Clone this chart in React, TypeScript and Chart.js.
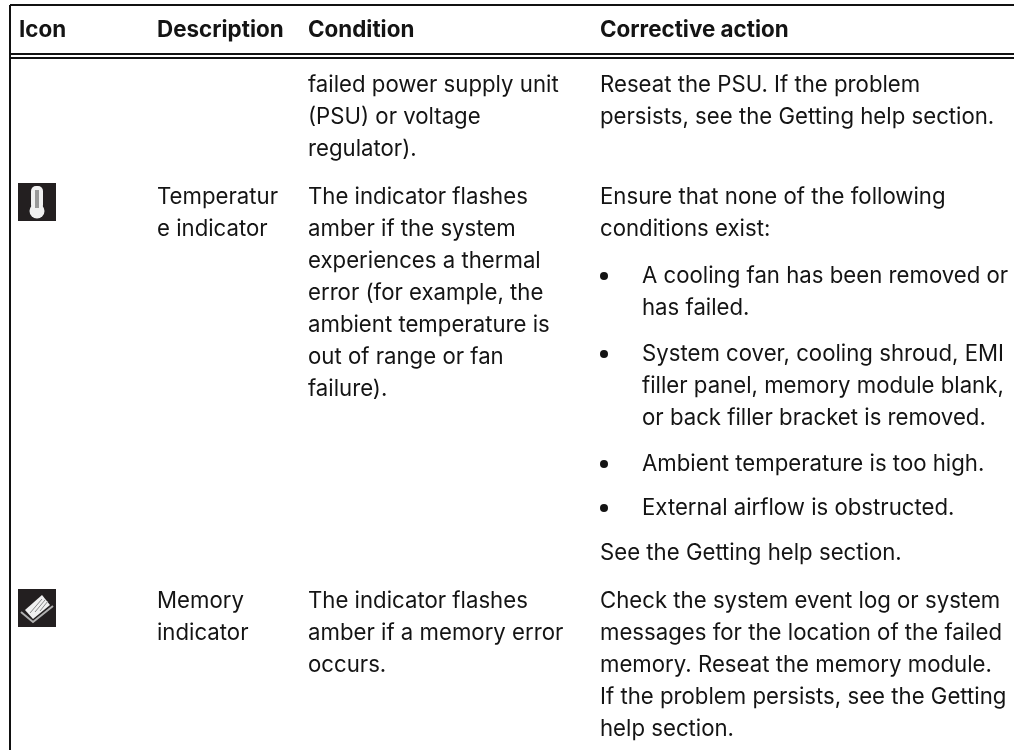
import React, { useEffect, useRef } from "react";
import { Chart, registerables } from "chart.js";

Chart.register(...registerables);

const FONT = "Inter";
const FONT_SIZE = 22.2;
const HEADER_FONT_SIZE = 22.4;
const TEXT_SHIFT = 1;
const columnX = [19, 157, 308, 600];
const headers = ["Icon", "Description", "Condition", "Corrective action"];
const headerY = 29;
const bulletX = 604;
const bulletTextX = 642;

type Line = [number, number, string];
const bodyLines: Line[] = [
  [2, 84, "failed power supply unit"],
  [2, 116, "(PSU) or voltage"],
  [2, 148, "regulator)."],
  [3, 84, "Reseat the PSU. If the problem"],
  [3, 116, "persists, see the Getting help section."],
  [1, 196, "Temperatur"],
  [1, 228, "e indicator"],
  [2, 196, "The indicator flashes"],
  [2, 228, "amber if the system"],
  [2, 260, "experiences a thermal"],
  [2, 292, "error (for example, the"],
  [2, 324, "ambient temperature is"],
  [2, 356, "out of range or fan"],
  [2, 388, "failure)."],
  [3, 196, "Ensure that none of the following"],
  [3, 228, "conditions exist:"],
  [3, 552, "See the Getting help section."],
  [1, 600, "Memory"],
  [1, 632, "indicator"],
  [2, 600, "The indicator flashes"],
  [2, 632, "amber if a memory error"],
  [2, 664, "occurs."],
  [3, 600, "Check the system event log or system"],
  [3, 632, "messages for the location of the failed"],
  [3, 664, "memory. Reseat the memory module."],
  [3, 696, "If the problem persists, see the Getting"],
  [3, 728, "help section."],
];
const bulletLines: [number, string, boolean][] = [
  [275, "A cooling fan has been removed or", true],
  [307, "has failed.", false],
  [353, "System cover, cooling shroud, EMI", true],
  [385, "filler panel, memory module blank,", false],
  [417, "or back filler bracket is removed.", false],
  [463, "Ambient temperature is too high.", true],
  [507, "External airflow is obstructed.", true],
];
const ruleTop = 5;
const ruleHeader = [54, 58];
const ruleLeft = 10;
const iconBoxes = [
  { x: 18, y: 183, size: 38 },
  { x: 18, y: 589, size: 38 },
];

const tablePlugin = {
  id: "tableText",
  afterDatasetsDraw(chart: any) {
    const { ctx, scales } = chart;
    const px = (v: number) => scales.x.getPixelForValue(v);
    const py = (v: number) => scales.y.getPixelForValue(v);
    ctx.save();
    ctx.textBaseline = "middle";
    ctx.textAlign = "left";
    ctx.fillStyle = "#141414";
    ctx.font = `bold ${HEADER_FONT_SIZE}px ${FONT}`;
    headers.forEach((h, i) => ctx.fillText(h, px(columnX[i]), py(headerY + TEXT_SHIFT)));
    ctx.font = `${FONT_SIZE}px ${FONT}`;
    bodyLines.forEach(([c, y, t]) => ctx.fillText(t, px(columnX[c]), py(y + TEXT_SHIFT)));
    bulletLines.forEach(([y, t, b]) => {
      ctx.fillText(t, px(bulletTextX), py(y + TEXT_SHIFT));
      if (b) {
        ctx.beginPath();
        ctx.arc(px(bulletX), py(y + TEXT_SHIFT), 4, 0, Math.PI * 2);
        ctx.fill();
      }
    });
    iconBoxes.forEach((b, i) => {
      const x = px(b.x), y = py(b.y), s = b.size;
      ctx.fillStyle = "#231f20";
      ctx.fillRect(x, y, s, s);
      if (i === 0) {
        ctx.fillStyle = "#f0f0f0";
        ctx.beginPath();
        ctx.roundRect(x + 13, y + 3, 12, 24, 5);
        ctx.fill();
        ctx.beginPath();
        ctx.arc(x + 19, y + 28, 7.5, 0, Math.PI * 2);
        ctx.fill();
        ctx.fillStyle = "#999999";
        ctx.fillRect(x + 17, y + 7, 4, 18);
      } else {
        ctx.strokeStyle = "#b0b0b0";
        ctx.lineWidth = 2;
        ctx.beginPath();
        ctx.moveTo(x + 3, y + 23);
        ctx.lineTo(x + 15, y + 33);
        ctx.lineTo(x + 35, y + 17);
        ctx.stroke();
        ctx.fillStyle = "#f0f0f0";
        ctx.beginPath();
        ctx.moveTo(x + 7, y + 21);
        ctx.lineTo(x + 24, y + 6);
        ctx.lineTo(x + 32, y + 16);
        ctx.lineTo(x + 15, y + 30);
        ctx.closePath();
        ctx.fill();
        ctx.strokeStyle = "#888888";
        ctx.lineWidth = 1;
        [0, 1, 2].forEach((k) => {
          ctx.beginPath();
          ctx.moveTo(x + 12 + k * 5, y + 24 + k * -1);
          ctx.lineTo(x + 24 + k * 3, y + 10 + k * 1);
          ctx.stroke();
        });
      }
    });
    ctx.restore();
  },
};

export default function App() {
  const ref = useRef<HTMLCanvasElement>(null);
  useEffect(() => {
    const rule = (pts: { x: number; y: number }[], w: number) => ({
      data: pts,
      borderColor: "#111111",
      borderWidth: w,
      pointRadius: 0,
      showLine: true,
    });
    const chart = new Chart(ref.current!, {
      type: "scatter",
      data: {
        datasets: [
          rule([{ x: ruleLeft, y: ruleTop }, { x: 1014, y: ruleTop }], 2),
          rule([{ x: ruleLeft, y: ruleHeader[0] }, { x: 1014, y: ruleHeader[0] }], 2),
          rule([{ x: ruleLeft, y: ruleHeader[1] }, { x: 1014, y: ruleHeader[1] }], 2),
          rule([{ x: ruleLeft, y: ruleTop }, { x: ruleLeft, y: 750 }], 2),
        ],
      },
      options: {
        animation: false,
        responsive: false,
        layout: { padding: 0 },
        plugins: { legend: { display: false }, tooltip: { enabled: false } },
        scales: {
          x: { type: "linear", min: 0, max: 1014, display: false },
          y: { type: "linear", min: 0, max: 750, reverse: true, display: false },
        },
      },
      plugins: [tablePlugin],
    });
    return () => chart.destroy();
  }, []);
  return (
    <div style={{ position: "fixed", left: 0, top: 0, width: 1014, height: 750, background: "#fff" }}>
      <canvas ref={ref} width={1014} height={750} style={{ display: "block" }} />
    </div>
  );
}
